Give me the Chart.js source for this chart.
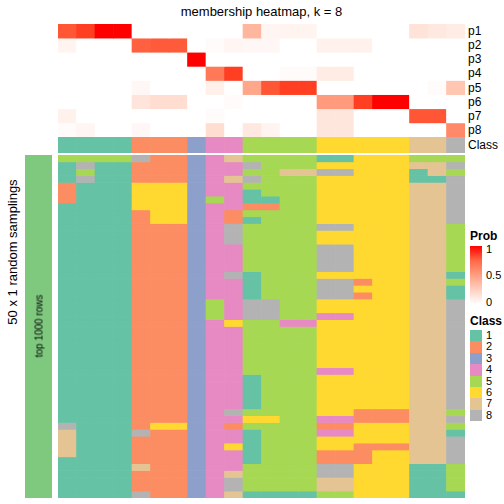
<!DOCTYPE html>
<html>
<head>
<meta charset="utf-8">
<script src="https://cdn.jsdelivr.net/npm/chart.js@4.4.1/dist/chart.umd.min.js"></script>
<style>
  body { margin: 0; width: 504px; height: 504px; position: relative; background: #fff;
         font-family: "Liberation Sans", Arial, sans-serif; color: #000; overflow: hidden; }
  .box { position: absolute; }
  .lbl { position: absolute; white-space: nowrap; }
</style>
</head>
<body>
<div class="lbl" style="left:58px;top:4px;width:407px;text-align:center;font-size:13px;line-height:16px">membership heatmap, k = 8</div>
<div class="box" style="left:58px;top:24px;width:407px;height:113px"><canvas id="probChart"></canvas></div>
<div class="box" style="left:58px;top:137px;width:407px;height:16px"><canvas id="classChart"></canvas></div>
<div class="box" style="left:25px;top:155px;width:27px;height:343px"><canvas id="annoChart"></canvas></div>
<div class="box" style="left:58px;top:155px;width:407px;height:343px"><canvas id="sampChart"></canvas></div>
<div class="lbl" style="left:12px;top:252px;font-size:13px;transform:translate(-50%,-50%) rotate(-90deg)">50 x 1 random samplings</div>
<div class="lbl" style="left:39px;top:326px;font-size:10px;transform:translate(-50%,-50%) rotate(-90deg)">top 1000 rows</div>
<div id="labels"></div>
<div id="legend"></div>
<script>
// 22 samples (columns)
const samples = Array.from({ length: 22 }, (_, i) => 'S' + (i + 1));
const rowNames = ['p1', 'p2', 'p3', 'p4', 'p5', 'p6', 'p7', 'p8'];

// membership probabilities per class, one value per sample
const p1 = [0.82, 0.9, 1, 1, 0, 0, 0, 0, 0, 0, 0.38, 0.05, 0.06, 0.06, 0, 0, 0, 0, 0, 0.15, 0.12, 0.1];
const p2 = [0.06, 0, 0, 0, 0.78, 0.8, 0.8, 0, 0.02, 0.05, 0.04, 0.04, 0, 0, 0.07, 0.07, 0.07, 0, 0, 0, 0, 0];
const p3 = [0, 0, 0, 0, 0, 0, 0, 1, 0, 0, 0, 0, 0, 0, 0, 0, 0, 0, 0, 0, 0, 0];
const p4 = [0, 0, 0, 0, 0, 0, 0, 0, 0.68, 0.9, 0, 0, 0.02, 0.02, 0.1, 0.1, 0, 0, 0, 0, 0, 0];
const p5 = [0, 0, 0, 0, 0.04, 0, 0, 0, 0.08, 0, 0.46, 0.82, 0.9, 0.9, 0, 0, 0, 0, 0, 0, 0.02, 0.3];
const p6 = [0, 0, 0, 0, 0.14, 0.18, 0.18, 0, 0, 0.02, 0, 0, 0, 0, 0.52, 0.52, 0.9, 1, 1, 0, 0, 0];
const p7 = [0.07, 0, 0, 0, 0, 0, 0, 0, 0.02, 0, 0, 0, 0, 0, 0.13, 0.13, 0, 0, 0, 0.82, 0.82, 0];
const p8 = [0.02, 0.05, 0, 0, 0.04, 0, 0, 0, 0.18, 0, 0.12, 0.06, 0, 0, 0.13, 0.13, 0, 0, 0, 0, 0, 0.6];

// consensus class per sample
const sampleClass = [1, 1, 1, 1, 2, 2, 2, 3, 4, 4, 5, 5, 5, 5, 6, 6, 6, 6, 6, 7, 7, 8];

// class found in each of the 50 random samplings (one string per sampling, one digit per sample)
const samplings = [
  '5555822347555511666555',
  '1811222344855566666778',
  '1511222344557788666175',
  '1811222347855566666118',
  '2111666344555566666778',
  '2111666344155566666778',
  '2111666354115566666778',
  '1111666344225566666778',
  '1111266342555566666778',
  '1111266342155566666778',
  '1111222348555588666775',
  '1111222348555566666775',
  '1111222348555566666775',
  '1111222344555588666775',
  '1111222344555588666775',
  '1111222344555588666775',
  '1111222344555588666775',
  '1111222348155566666771',
  '1111222344155588266775',
  '1111222344155588666771',
  '1111222344155588266771',
  '1111222354885566666778',
  '1111222354885566666778',
  '1111222354885544666778',
  '1111222346554466666778',
  '1111222344555566666778',
  '1111222344555566666778',
  '1111222344555566666778',
  '1111222344555566666778',
  '1111222344555566666778',
  '1111222344555566666778',
  '1111222344555544666778',
  '1111222344155566666778',
  '1111222344155566666778',
  '1111222344155566666778',
  '1111222344155566666778',
  '1111222344155566666778',
  '1111222348555566222775',
  '1111222344665544222778',
  '8111266342555522666775',
  '7111822344155544666771',
  '7111222344155566666778',
  '7111222346155566222778',
  '7111222344155522266778',
  '1111222344155522266778',
  '1111722344555588666115',
  '1111222347555588666115',
  '1111222348555577666115',
  '1111222348555577666115',
  '1111822347111155666111'
];

const classNames = ['1', '2', '3', '4', '5', '6', '7', '8'];
const classColors = ['#66C2A5', '#FC8D62', '#8DA0CB', '#E78AC3', '#A6D854', '#FFD92F', '#E5C494', '#B3B3B3'];
const annoColor = '#7FC97F';

// white -> red interpolated in CIE Lab
function probColor(v) {
  const L = 100 + (53.24 - 100) * v, A = 80.09 * v, B = 67.2 * v;
  const fy = (L + 16) / 116, fx = fy + A / 500, fz = fy - B / 200;
  const finv = t => t > 6 / 29 ? t * t * t : 3 * (6 / 29) * (6 / 29) * (t - 4 / 29);
  const X = 0.95047 * finv(fx), Y = finv(fy), Z = 1.08883 * finv(fz);
  const lin = [3.2406 * X - 1.5372 * Y - 0.4986 * Z,
               -0.9689 * X + 1.8758 * Y + 0.0415 * Z,
               0.0557 * X - 0.2040 * Y + 1.0570 * Z];
  const rgb = lin.map(c => {
    c = Math.max(0, Math.min(1, c));
    c = c <= 0.0031308 ? 12.92 * c : 1.055 * Math.pow(c, 1 / 2.4) - 0.055;
    return Math.round(c * 255);
  });
  return `rgb(${rgb[0]},${rgb[1]},${rgb[2]})`;
}

function gridOptions(nRows) {
  return {
    responsive: true,
    maintainAspectRatio: false,
    animation: false,
    events: [],
    layout: { padding: 0 },
    plugins: { legend: { display: false }, tooltip: { enabled: false } },
    scales: {
      x: { stacked: true, display: false },
      y: { stacked: true, display: false, min: 0, max: nRows, reverse: true }
    }
  };
}

function cellSet(colors, n) {
  return {
    data: Array(n).fill(1),
    backgroundColor: colors,
    borderWidth: 0,
    barPercentage: 1,
    categoryPercentage: 1
  };
}

const probRows = [p1, p2, p3, p4, p5, p6, p7, p8];
new Chart(document.getElementById('probChart'), {
  type: 'bar',
  data: { labels: samples, datasets: probRows.map(r => cellSet(r.map(probColor), samples.length)) },
  options: gridOptions(probRows.length)
});

new Chart(document.getElementById('classChart'), {
  type: 'bar',
  data: { labels: samples, datasets: [cellSet(sampleClass.map(c => classColors[c - 1]), samples.length)] },
  options: gridOptions(1)
});

new Chart(document.getElementById('sampChart'), {
  type: 'bar',
  data: {
    labels: samples,
    datasets: samplings.map(s => cellSet(s.split('').map(c => classColors[+c - 1]), samples.length))
  },
  options: gridOptions(samplings.length)
});

new Chart(document.getElementById('annoChart'), {
  type: 'bar',
  data: { labels: ['top 1000 rows'], datasets: [cellSet([annoColor], 1)] },
  options: gridOptions(1)
});

// row labels on the right
const labels = document.getElementById('labels');
rowNames.concat(['Class']).forEach((name, i) => {
  const d = document.createElement('div');
  d.className = 'lbl';
  d.textContent = name;
  const top = i < 8 ? 24 + i * 14.125 : 137;
  const h = i < 8 ? 14.125 : 16;
  d.style.cssText = `left:468px;top:${top}px;height:${h}px;line-height:${h}px;font-size:12px`;
  labels.appendChild(d);
});

// legends
const legend = document.getElementById('legend');
const stops = [0, 0.25, 0.5, 0.75, 1].map(v => `${probColor(v)} ${v * 100}%`).join(',');
let html = `<div class="lbl" style="left:470px;top:229px;font-size:12px;font-weight:bold">Prob</div>`;
html += `<div class="lbl" style="left:470px;top:246px;width:12px;height:58px;background:linear-gradient(to top,${stops})"></div>`;
[['1', 249], ['0.5', 275], ['0', 302]].forEach(([t, y]) => {
  html += `<div class="lbl" style="left:486px;top:${y - 6}px;font-size:11px;line-height:12px">${t}</div>`;
});
html += `<div class="lbl" style="left:470px;top:314px;font-size:12px;font-weight:bold">Class</div>`;
classNames.forEach((n, i) => {
  const y = 330 + i * 11.4;
  html += `<div class="lbl" style="left:470px;top:${y}px;width:12px;height:11.4px;background:${classColors[i]}"></div>`;
  html += `<div class="lbl" style="left:486px;top:${y}px;font-size:11px;line-height:11.4px">${n}</div>`;
});
legend.innerHTML = html;
</script>
</body>
</html>
